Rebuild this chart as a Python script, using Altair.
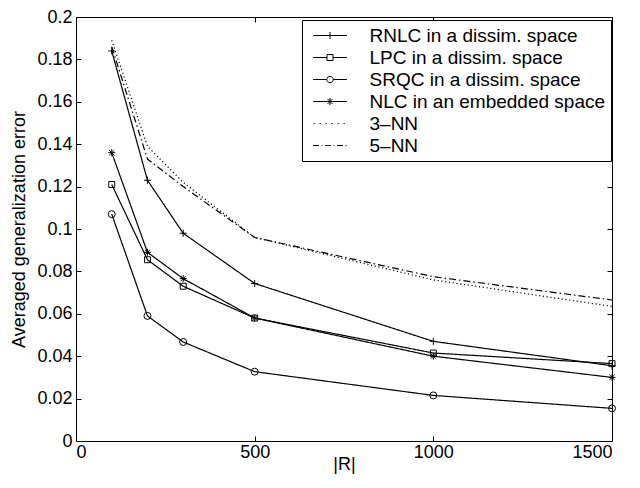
import altair as alt
import pandas as pd

# ---- data ----
R = [100, 200, 300, 500, 1000, 1500]
series = [
    "RNLC in a dissim. space",
    "LPC in a dissim. space",
    "SRQC in a dissim. space",
    "NLC in an embedded space",
    "3–NN",
    "5–NN",
]
rnlc = [0.184, 0.123, 0.098, 0.0743, 0.047, 0.0355]
lpc = [0.121, 0.0855, 0.073, 0.058, 0.0415, 0.0365]
srqc = [0.107, 0.059, 0.0467, 0.0327, 0.0215, 0.0154]
nlc = [0.136, 0.089, 0.0766, 0.058, 0.040, 0.030]
nn3 = [0.189, 0.139, 0.122, 0.096, 0.076, 0.0635]
nn5 = [0.186, 0.133, 0.120, 0.096, 0.0775, 0.0665]
x_ticks = [0, 500, 1000, 1500]
y_ticks = [0, 0.02, 0.04, 0.06, 0.08, 0.1, 0.12, 0.14, 0.16, 0.18, 0.2]

values = [rnlc, lpc, srqc, nlc, nn3, nn5]
rows = []
for s, vals in zip(series, values):
    for r, v in zip(R, vals):
        rows.append({"R": r, "err": v, "series": s})
df = pd.DataFrame(rows)
marker_series = series[:4]
df_markers = df[df["series"].isin(marker_series)]

# ---- styles ----
FONT = "Liberation Sans"
FS = 18
dashes = [[1, 0], [1, 0], [1, 0], [1, 0], [1.2, 2.6], [7, 3, 1.5, 3]]

plus_p = "M-1,0H1M0,-1V1"
square_p = "M-0.85,-0.85H0.85V0.85H-0.85Z"
star_p = "M-1,0H1M0,-1V1M-0.72,-0.72L0.72,0.72M-0.72,0.72L0.72,-0.72"
marker_shapes = [plus_p, square_p, "circle", star_p]

L = 1.7
leg_plus = f"M-{L},0H{L}M0,-0.35V0.35"
leg_square = f"M-{L},0H-0.3M0.3,0H{L}M-0.3,-0.3H0.3V0.3H-0.3Z"
leg_circle = f"M-{L},0H-0.32M0.32,0H{L}M-0.32,0A0.32,0.32 0 1 0 0.32,0A0.32,0.32 0 1 0 -0.32,0Z"
leg_star = f"M-{L},0H{L}M0,-0.35V0.35M-0.26,-0.26L0.26,0.26M-0.26,0.26L0.26,-0.26"
leg_dot = "".join(f"M{-L + 0.05 + i * 0.6:.2f},0h0.12" for i in range(6))
leg_dashdot = "M-1.7,0H-1.1M-0.85,0H-0.75M-0.5,0H0.1M0.35,0H0.45M0.7,0H1.3M1.55,0H1.65"
legend_shapes = [leg_plus, leg_square, leg_circle, leg_star, leg_dot, leg_dashdot]

xscale = alt.Scale(domain=[0, 1500], nice=False)
yscale = alt.Scale(domain=[0, 0.2], nice=False)

axis_common = dict(
    domain=False, grid=False, tickColor="black", tickWidth=1, tickSize=5,
    offset=-5, labelColor="black", labelFont=FONT, labelFontSize=FS,
    titleFont=FONT, titleFontSize=FS, titleFontWeight="normal", titleColor="black",
)

lines = alt.Chart(df).mark_line(color="black", strokeWidth=1.2).encode(
    x=alt.X("R:Q", scale=xscale,
            axis=alt.Axis(orient="bottom", values=x_ticks, format="d", title="|R|",
                          labelPadding=2, titlePadding=-6, **axis_common)),
    y=alt.Y("err:Q", scale=yscale,
            axis=alt.Axis(orient="left", values=y_ticks, format="~g",
                          title="Averaged generalization error",
                          labelPadding=4, titlePadding=8, **axis_common)),
    strokeDash=alt.StrokeDash("series:N", scale=alt.Scale(domain=series, range=dashes), legend=None),
    detail="series:N",
)

points = alt.Chart(df_markers).mark_point(filled=False, color="black", size=49, strokeWidth=1, opacity=1).encode(
    x=alt.X("R:Q", scale=xscale, axis=None),
    y=alt.Y("err:Q", scale=yscale, axis=None),
    shape=alt.Shape("series:N", scale=alt.Scale(domain=marker_series, range=marker_shapes), legend=None),
)

legend_layer = alt.Chart(df).mark_point(filled=False, color="black", opacity=0, strokeWidth=1).encode(
    x=alt.X("R:Q", scale=xscale,
            axis=alt.Axis(orient="top", values=x_ticks, labels=False, title=None, **axis_common)),
    y=alt.Y("err:Q", scale=yscale,
            axis=alt.Axis(orient="right", values=y_ticks, labels=False, title=None, **axis_common)),
    shape=alt.Shape(
        "series:N",
        scale=alt.Scale(domain=series, range=legend_shapes),
        legend=alt.Legend(
            title=None, orient="none", legendX=226, legendY=3,
            symbolSize=400, symbolStrokeWidth=1, symbolStrokeColor="black",
            symbolFillColor="transparent", symbolOpacity=1,
            symbolOffset=12.5, labelOffset=29, rowPadding=1,
            labelFont=FONT, labelFontSize=19, labelColor="black", labelLimit=400,
            padding=5, strokeColor="black", fillColor="white",
        ),
    ),
)

chart = (
    alt.layer(lines, points, legend_layer)
    .resolve_scale(shape="independent")
    .resolve_axis(x="independent", y="independent")
    .properties(
        width=536, height=424,
        padding={"left": 68, "top": 9, "right": 20, "bottom": 35},
        autosize=alt.AutoSizeParams(type="none"),
        background="white",
    )
    .configure_view(stroke="black", strokeWidth=1)
)

chart.save("out.html", embed_options={"renderer": "svg", "actions": False})
